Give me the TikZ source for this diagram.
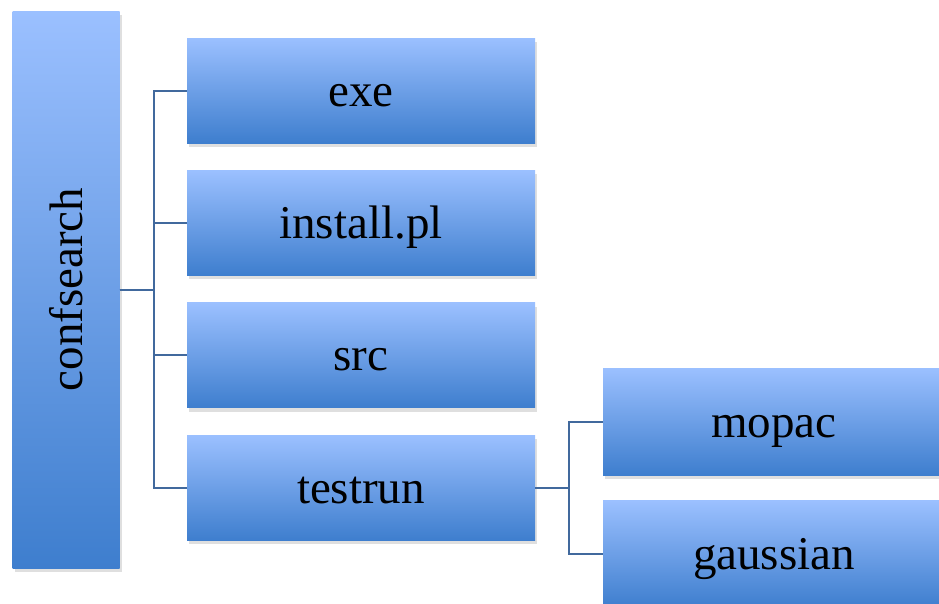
\documentclass[tikz,border=0pt]{standalone}
\usepackage{fontspec}
\setmainfont{Liberation Serif}
\usetikzlibrary{positioning,shadows}
\definecolor{BoxTop}{HTML}{9BC0FF}
\definecolor{BoxBot}{HTML}{3E7ECE}
\definecolor{Link}{HTML}{41699D}

\begin{document}
\begin{tikzpicture}[x=1pt,y=-1pt,
    shadebox/.style={top color=BoxTop,bottom color=BoxBot,inner sep=0pt,font=\fontsize{47}{50}\selectfont,
      drop shadow={opacity=.25,shadow xshift=2pt,shadow yshift=-4pt}},
    folder/.style={shadebox,minimum width=348pt,minimum height=105pt,text height=37pt,text depth=6pt},
    link/.style={Link,line width=2pt}]
  \useasboundingbox (0,0) rectangle (939,603);
  \node[shadebox,minimum width=107pt,minimum height=557pt](root)at(66,289.5){\rotatebox{90}{confsearch}};
  \node[folder](exe)at(361,90.5){exe};
  \node[folder,below=27pt of exe](install){install.pl};
  \node[folder,below=27pt of install](src){src};
  \node[folder,below=27pt of src](testrun){testrun};
  \node[folder,minimum width=342pt,minimum height=107pt](mopac)at(774,421.5){mopac};
  \node[folder,minimum width=342pt,minimum height=107pt](gaussian)at(774,554){gaussian};
  \foreach \n in {exe,install,src,testrun}
    \draw[link](root.east)--++(34,0)|-(\n.west);
  \foreach \n in {mopac,gaussian}
    \draw[link](testrun.east)--++(34,0)|-(\n.west);
\end{tikzpicture}
\end{document}
